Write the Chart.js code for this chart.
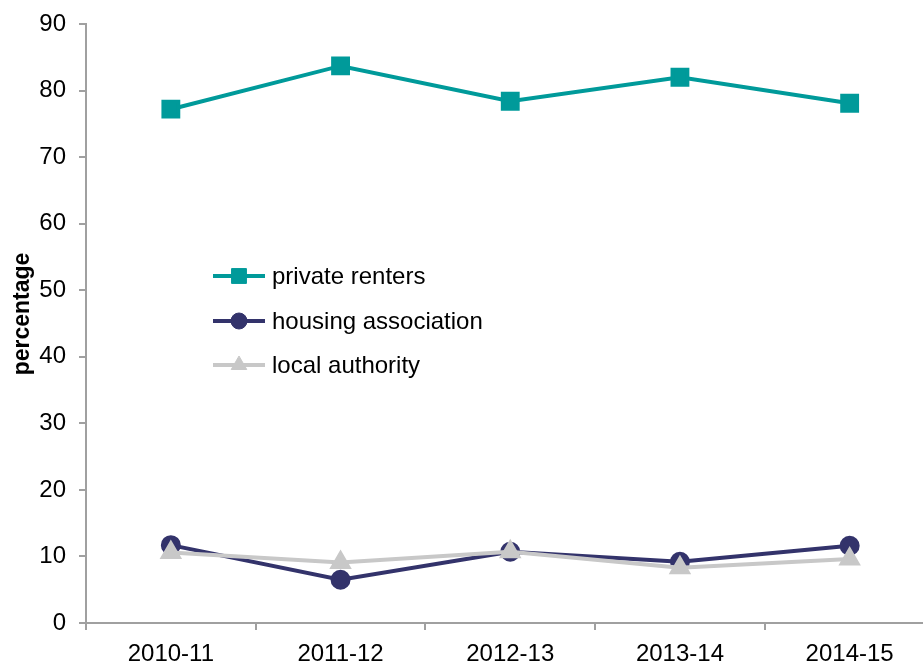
<!DOCTYPE html>
<html>
<head>
<meta charset="utf-8">
<script src="https://cdn.jsdelivr.net/npm/chart.js@4/dist/chart.umd.min.js"></script>
<style>
    html, body { margin: 0; padding: 0; background: #fff; overflow: hidden; }
    #wrap { position: absolute; left: 0; top: 0; width: 949px; height: 662px; }
</style>
</head>
<body>
<div id="wrap"><canvas id="chart"></canvas></div>
<script>
// Data
const years = ['2010-11', '2011-12', '2012-13', '2013-14', '2014-15'];
const privateRenters = [77.2, 83.7, 78.4, 82.0, 78.1];
const housingAssociation = [11.7, 6.5, 10.7, 9.2, 11.6];
const localAuthority = [10.6, 9.1, 10.7, 8.3, 9.6];
const seriesNames = ['private renters', 'housing association', 'local authority'];
const yTitle = 'percentage';

const colors = {
    teal: '#009a9a',
    navy: '#33336b',
    grey: '#c8c8c8',
    axis: '#a0a0a0',
    text: '#000000'
};
const FONT = "'Liberation Sans', Arial, sans-serif";

// Legend drawn inside the plot area, plus the rotated axis title
const insideLegend = {
    id: 'insideLegend',
    afterDraw(chart) {
        const ctx = chart.ctx;
        const rows = [276, 321, 365];
        chart.data.datasets.forEach((ds, i) => {
            const y = rows[i];
            ctx.save();
            ctx.strokeStyle = ds.borderColor;
            ctx.lineWidth = ds.borderWidth;
            ctx.beginPath();
            ctx.moveTo(213, y);
            ctx.lineTo(265, y);
            ctx.stroke();
            ctx.fillStyle = ds.pointBackgroundColor;
            ctx.strokeStyle = ds.pointBorderColor;
            ctx.lineWidth = 1;
            Chart.helpers.drawPoint(ctx, {
                pointStyle: ds.pointStyle,
                radius: ds.pointRadius,
                rotation: 0,
                borderWidth: 1
            }, 239, y);
            ctx.fillStyle = colors.text;
            ctx.font = `24px ${FONT}`;
            ctx.textBaseline = 'middle';
            ctx.textAlign = 'left';
            ctx.fillText(ds.label, 272, y + 1);
            ctx.restore();
        });

        // y axis title, centred a little above the plot middle as in the original
        ctx.save();
        ctx.translate(23, 314);
        ctx.rotate(-Math.PI / 2);
        ctx.fillStyle = colors.text;
        ctx.font = `bold 23px ${FONT}`;
        ctx.textAlign = 'center';
        ctx.textBaseline = 'middle';
        ctx.fillText(yTitle, 0, 0);
        ctx.restore();
    }
};

new Chart(document.getElementById('chart'), {
    type: 'line',
    data: {
        labels: years,
        datasets: [
            {
                label: seriesNames[0],
                data: privateRenters,
                borderColor: colors.teal,
                backgroundColor: colors.teal,
                pointBackgroundColor: colors.teal,
                pointBorderColor: colors.teal,
                pointStyle: 'rect',
                pointRadius: 10.5,
                borderWidth: 4,
                order: 2
            },
            {
                label: seriesNames[1],
                data: housingAssociation,
                borderColor: colors.navy,
                backgroundColor: colors.navy,
                pointBackgroundColor: colors.navy,
                pointBorderColor: colors.navy,
                pointStyle: 'circle',
                pointRadius: 8,
                borderWidth: 4,
                order: 1
            },
            {
                label: seriesNames[2],
                data: localAuthority,
                borderColor: colors.grey,
                backgroundColor: colors.grey,
                pointBackgroundColor: colors.grey,
                pointBorderColor: colors.grey,
                pointStyle: 'triangle',
                pointRadius: 9,
                borderWidth: 4,
                order: 0
            }
        ]
    },
    options: {
        responsive: true,
        maintainAspectRatio: false,
        animation: false,
        layout: { padding: { top: 24, right: 0, bottom: 0, left: 0 } },
        plugins: {
            legend: { display: false },
            tooltip: { enabled: false }
        },
        elements: { line: { tension: 0 } },
        scales: {
            x: {
                offset: true,
                grid: {
                    offset: true,
                    drawOnChartArea: false,
                    drawTicks: true,
                    tickLength: 7,
                    color: colors.axis,
                    lineWidth: 2
                },
                border: { display: true, color: colors.axis, width: 2 },
                ticks: {
                    color: colors.text,
                    font: { family: FONT, size: 24 },
                    padding: 10,
                    maxRotation: 0
                },
                afterFit(scale) {
                    scale.height = 39;
                    scale.paddingLeft = 0;
                    scale.paddingRight = 0;
                }
            },
            y: {
                min: 0,
                max: 90,
                grid: {
                    drawOnChartArea: false,
                    drawTicks: true,
                    tickLength: 7,
                    color: colors.axis,
                    lineWidth: 2
                },
                border: { display: true, color: colors.axis, width: 2 },
                ticks: {
                    stepSize: 10,
                    color: colors.text,
                    font: { family: FONT, size: 24 },
                    padding: 13
                },
                afterFit(scale) {
                    scale.width = 86;
                    scale.paddingTop = 0;
                    scale.paddingBottom = 0;
                }
            }
        }
    },
    plugins: [insideLegend]
});
</script>
</body>
</html>
